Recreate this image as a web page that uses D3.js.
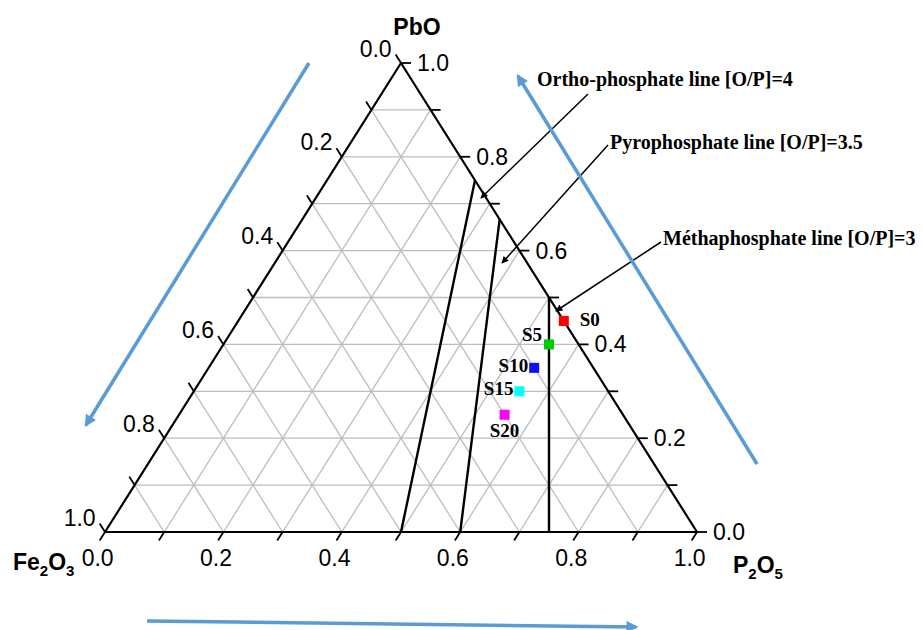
<!DOCTYPE html>
<html>
<head>
<meta charset="utf-8">
<script src="https://cdn.jsdelivr.net/npm/d3@7"></script>
<style>
  html, body { margin: 0; padding: 0; background: #fff; }
  svg { display: block; }
  .sans { font-family: "Liberation Sans", Arial, sans-serif; }
  .serif { font-family: "Liberation Serif", "Times New Roman", serif; font-weight: bold; }
</style>
</head>
<body>
<svg id="chart" width="923" height="630"></svg>
<script>
// composition of the glasses (mole fractions)
const samples = ['S0', 'S5', 'S10', 'S15', 'S20'];
const fe2o3 = [0.00, 0.05, 0.10, 0.15, 0.20];
const pbo   = [0.45, 0.40, 0.35, 0.30, 0.25];
const p2o5  = [0.55, 0.55, 0.55, 0.55, 0.55];
const sampleColors = ['#ff0000', '#00cc00', '#1010ff', '#00ffff', '#ff00ff'];

// axis ticks
const tickValues  = [0, 0.1, 0.2, 0.3, 0.4, 0.5, 0.6, 0.7, 0.8, 0.9, 1.0];
const labelValues = [0, 0.2, 0.4, 0.6, 0.8, 1.0];
const gridValues  = [0.1, 0.2, 0.3, 0.4, 0.5, 0.6, 0.7, 0.8, 0.9];

// [O/P] lines, end points as {f: Fe2O3, b: PbO, p: P2O5}
const lineNames = ['Ortho-phosphate line [O/P]=4', 'Pyrophosphate line [O/P]=3.5', 'Méthaphosphate line [O/P]=3'];
const lineStart = [{f: 0.5, b: 0, p: 0.5}, {f: 0.4, b: 0, p: 0.6}, {f: 0.25, b: 0, p: 0.75}];
const lineEnd   = [{f: 0, b: 0.75, p: 0.25}, {f: 0, b: 2 / 3, p: 1 / 3}, {f: 0, b: 0.5, p: 0.5}];

const svg = d3.select('#chart');

const X = d3.scaleLinear().domain([0, 1]).range([105, 697]);
const Y = d3.scaleLinear().domain([0, 1]).range([532, 63]);
const proj = (f, b, p) => [X(p + b / 2), Y(b)];
const line = d3.line();

const TICK = 10;
function unit(a, b) {
  const dx = b[0] - a[0], dy = b[1] - a[1], l = Math.hypot(dx, dy);
  return [dx / l, dy / l];
}
const leftDir   = unit(proj(0, 0, 1), proj(0, 1, 0));   // up-left, parallel to right edge
const bottomDir = unit(proj(0, 1, 0), proj(1, 0, 0));   // down-left, parallel to left edge

const defs = svg.append('defs');
defs.append('marker').attr('id', 'blackHead')
  .attr('viewBox', '0 0 10 10').attr('refX', 9).attr('refY', 5)
  .attr('markerWidth', 9).attr('markerHeight', 7).attr('markerUnits', 'userSpaceOnUse')
  .attr('orient', 'auto')
  .append('path').attr('d', 'M0,0L10,5L0,10Z').attr('fill', '#000');
defs.append('marker').attr('id', 'blueHead')
  .attr('viewBox', '0 0 10 10').attr('refX', 8).attr('refY', 5)
  .attr('markerWidth', 13).attr('markerHeight', 12).attr('markerUnits', 'userSpaceOnUse')
  .attr('orient', 'auto')
  .append('path').attr('d', 'M0,0L10,5L0,10Z').attr('fill', '#5b9bd5');

// grid
const grid = svg.append('g').attr('stroke', '#bdbdbd').attr('stroke-width', 1.3).attr('fill', 'none');
gridValues.forEach(v => {
  grid.append('path').attr('d', line([proj(1 - v, v, 0), proj(0, v, 1 - v)]));
  grid.append('path').attr('d', line([proj(1 - v, 0, v), proj(0, 1 - v, v)]));
  grid.append('path').attr('d', line([proj(v, 0, 1 - v), proj(v, 1 - v, 0)]));
});

// triangle frame
svg.append('path')
  .attr('d', line([proj(0, 1, 0), proj(1, 0, 0), proj(0, 0, 1)]) + 'Z')
  .attr('fill', 'none').attr('stroke', '#000').attr('stroke-width', 2.2)
  .attr('stroke-linejoin', 'round');

// ticks + labels
const axes = svg.append('g').attr('stroke', '#000').attr('stroke-width', 1.8);
const labels = svg.append('g').attr('class', 'sans').attr('font-size', 23).attr('fill', '#000');
tickValues.forEach(v => {
  // right edge: PbO
  const r = proj(0, v, 1 - v);
  axes.append('line').attr('x1', r[0]).attr('y1', r[1]).attr('x2', r[0] + TICK).attr('y2', r[1]);
  // left edge: Fe2O3
  const l = proj(v, 1 - v, 0);
  const le = [l[0] + leftDir[0] * TICK, l[1] + leftDir[1] * TICK];
  axes.append('line').attr('x1', l[0]).attr('y1', l[1]).attr('x2', le[0]).attr('y2', le[1]);
  // bottom edge: P2O5
  const bt = proj(1 - v, 0, v);
  const be = [bt[0] + bottomDir[0] * TICK, bt[1] + bottomDir[1] * TICK];
  axes.append('line').attr('x1', bt[0]).attr('y1', bt[1]).attr('x2', be[0]).attr('y2', be[1]);
});
labelValues.forEach(v => {
  const txt = d3.format('.1f')(v);
  const r = proj(0, v, 1 - v);
  labels.append('text').attr('x', r[0] + TICK + 6).attr('y', r[1] + 8).text(txt);
  const l = proj(v, 1 - v, 0);
  labels.append('text').attr('text-anchor', 'end')
    .attr('x', l[0] + leftDir[0] * TICK - 4).attr('y', l[1] + leftDir[1] * TICK + 2).text(txt);
  const bt = proj(1 - v, 0, v);
  labels.append('text').attr('text-anchor', 'middle')
    .attr('x', bt[0] + bottomDir[0] * TICK - 2).attr('y', bt[1] + 34).text(txt);
});

// vertex names
const names = svg.append('g').attr('class', 'sans').attr('font-weight', 'bold').attr('font-size', 23);
names.append('text').attr('x', 417).attr('y', 35).attr('text-anchor', 'middle').text('PbO');
const fe = names.append('text').attr('x', 13).attr('y', 570);
fe.append('tspan').text('Fe');
fe.append('tspan').attr('font-size', 15).attr('dy', 6).text('2');
fe.append('tspan').attr('dy', -6).text('O');
fe.append('tspan').attr('font-size', 15).attr('dy', 6).text('3');
const pp = names.append('text').attr('x', 733).attr('y', 573);
pp.append('tspan').text('P');
pp.append('tspan').attr('font-size', 15).attr('dy', 6).text('2');
pp.append('tspan').attr('dy', -6).text('O');
pp.append('tspan').attr('font-size', 15).attr('dy', 6).text('5');

// [O/P] lines
const opLines = svg.append('g').attr('stroke', '#000').attr('stroke-width', 2.4).attr('fill', 'none');
lineNames.forEach((n, i) => {
  const a = lineStart[i], b = lineEnd[i];
  opLines.append('path').attr('d', line([proj(a.f, a.b, a.p), proj(b.f, b.b, b.p)]));
});

// annotations
const annText = [[537, 86], [610, 149], [663, 245]];
const annArrow = [[[588, 94], [481, 198]], [[608, 145], [502, 263]], [[661, 242], [556, 311]]];
const ann = svg.append('g');
lineNames.forEach((n, i) => {
  ann.append('path').attr('d', line(annArrow[i]))
    .attr('stroke', '#000').attr('stroke-width', 1.5).attr('fill', 'none')
    .attr('marker-end', 'url(#blackHead)');
  ann.append('text').attr('class', 'serif').attr('font-size', 20)
    .attr('x', annText[i][0]).attr('y', annText[i][1]).text(n);
});

// samples
const pts = samples.map((s, i) => ({name: s, xy: proj(fe2o3[i], pbo[i], p2o5[i]), color: sampleColors[i]}));
const SQ = 10;
svg.append('g').selectAll('rect').data(pts).join('rect')
  .attr('x', d => d.xy[0] - SQ / 2).attr('y', d => d.xy[1] - SQ / 2)
  .attr('width', SQ).attr('height', SQ).attr('fill', d => d.color);

const labelPos = [
  {dx: 16, dy: 5, anchor: 'start'},
  {dx: -7, dy: -3, anchor: 'end'},
  {dx: -6, dy: 4, anchor: 'end'},
  {dx: -6, dy: 4, anchor: 'end'},
  {dx: 0, dy: 22, anchor: 'middle'}
];
svg.append('g').attr('class', 'serif').attr('font-size', 19)
  .selectAll('text').data(pts).join('text')
  .attr('x', (d, i) => d.xy[0] + labelPos[i].dx)
  .attr('y', (d, i) => d.xy[1] + labelPos[i].dy)
  .attr('text-anchor', (d, i) => labelPos[i].anchor)
  .text(d => d.name);

// direction arrows
const blue = svg.append('g').attr('stroke', '#5b9bd5').attr('stroke-width', 3.5).attr('fill', 'none');
blue.append('path').attr('d', line([[309, 63], [86, 425]])).attr('marker-end', 'url(#blueHead)');
blue.append('path').attr('d', line([[757, 464], [518, 76]])).attr('marker-end', 'url(#blueHead)');
blue.append('path').attr('d', line([[147, 621], [636, 627]])).attr('marker-end', 'url(#blueHead)');
</script>
</body>
</html>
